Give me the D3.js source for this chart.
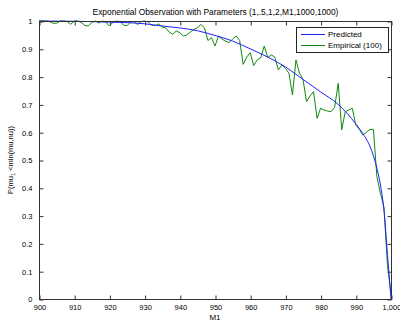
<!DOCTYPE html>
<html><head><meta charset="utf-8">
<script src="https://cdn.jsdelivr.net/npm/d3@7"></script>
<style>body{margin:0;background:#fff}svg{display:block}text{font-family:"Liberation Sans",Arial,sans-serif;fill:#000}</style>
</head><body><svg id="c" width="400" height="323"></svg>
<script>
const titleText = "Exponential Observation with Parameters (1,.5,1,2,M1,1000,1000)";
const xLabel = "M1";
const xTicks = [900,910,920,930,940,950,960,970,980,990,1000];
const yTicks = [0,0.1,0.2,0.3,0.4,0.5,0.6,0.7,0.8,0.9,1];
const seriesNames = ["Predicted","Empirical (100)"];
const predM = [900,910,920,930,935,940,945,950,955,960,965,970,975,980,985,990,992,994,995,996,997,998,999,1000];
const predV = [1.0,0.999,0.996,0.99,0.982,0.975,0.965,0.948,0.928,0.9,0.87,0.835,0.79,0.745,0.70,0.63,0.595,0.55,0.515,0.47,0.41,0.32,0.16,0.0];
const empM = d3.range(900,1001);
const empV = [1.0,1.0,1.0,0.998,0.992,0.992,1.0,1.0,0.998,0.988,
1.0,1.0,0.995,0.984,0.982,0.995,1.0,0.993,1.0,0.996,
0.982,0.995,1.0,0.998,0.985,0.983,0.996,0.998,0.987,0.998,
1.0,0.997,0.985,0.983,0.99,0.978,0.975,0.96,0.952,0.964,
0.958,0.946,0.95,0.96,0.97,0.975,0.988,0.975,0.93,0.94,
0.91,0.946,0.935,0.928,0.922,0.935,0.946,0.93,0.844,0.87,
0.886,0.84,0.86,0.868,0.91,0.868,0.878,0.87,0.824,0.842,
0.83,0.812,0.734,0.86,0.812,0.79,0.71,0.73,0.746,0.65,
0.686,0.68,0.676,0.674,0.69,0.776,0.608,0.674,0.68,0.686,
0.626,0.61,0.59,0.6,0.61,0.61,0.44,0.38,0.33,0.12,0.02];

const svg = d3.select("#c");
const L=39,R=391,T=21,B=299;
const x = d3.scaleLinear().domain([900,1000]).range([L,R]);
const y = d3.scaleLinear().domain([0,1]).range([B,T]);
const fs = 7.5;

svg.append("rect").attr("x",L+0.5).attr("y",T+0.5).attr("width",R-L).attr("height",B-T)
  .attr("fill","#fff").attr("stroke","#333").attr("stroke-width",1);

const gx = svg.append("g").attr("transform",`translate(0.5,${B+0.5})`)
  .call(d3.axisBottom(x).tickValues(xTicks).tickSizeInner(-4).tickSizeOuter(0).tickPadding(7));
const gxt = svg.append("g").attr("transform",`translate(0.5,${T+0.5})`)
  .call(d3.axisTop(x).tickValues(xTicks).tickSizeInner(-4).tickSizeOuter(0).tickFormat(""));
const gy = svg.append("g").attr("transform",`translate(${L+0.5},0.5)`)
  .call(d3.axisLeft(y).tickValues(yTicks).tickSizeInner(-4).tickSizeOuter(0).tickPadding(7).tickFormat(d=>d===0||d===1?String(d):d3.format(".1f")(d)));
const gyr = svg.append("g").attr("transform",`translate(${R+0.5},0.5)`)
  .call(d3.axisRight(y).tickValues(yTicks).tickSizeInner(-4).tickSizeOuter(0).tickFormat(""));
[gx,gxt,gy,gyr].forEach(g=>{g.select(".domain").remove();g.selectAll("line").attr("stroke","#333");
  g.selectAll("text").attr("font-size",fs).style("font-family","'Liberation Sans',Arial,sans-serif");});
gx.selectAll("text").attr("dy","0.5em");

const line = d3.line().x(d=>x(d[0])).y(d=>y(d[1]));
svg.append("path").datum(empM.map((m,i)=>[m,empV[i]])).attr("d",line)
  .attr("fill","none").attr("stroke","#118811").attr("stroke-width",1);
svg.append("path").datum(predM.map((m,i)=>[m,predV[i]])).attr("d",line.curve(d3.curveMonotoneX))
  .attr("fill","none").attr("stroke","#2020ff").attr("stroke-width",1);

svg.append("rect").attr("x",L+0.5).attr("y",T+0.5).attr("width",R-L).attr("height",B-T)
  .attr("fill","none").attr("stroke","#333").attr("stroke-width",1);

const lg = svg.append("g");
lg.append("rect").attr("x",296.5).attr("y",27.5).attr("width",92).attr("height",25)
  .attr("fill","#fff").attr("stroke","#222");
const lc = ["#2020ff","#118811"];
seriesNames.forEach((n,i)=>{
  const yy = 34.5 + i*11;
  lg.append("line").attr("x1",301).attr("x2",325).attr("y1",yy).attr("y2",yy).attr("stroke",lc[i]).attr("stroke-width",1);
  lg.append("text").attr("x",328).attr("y",yy).attr("dy","0.35em").attr("font-size",fs+0.5).text(n);
});

svg.append("text").attr("x",(L+R)/2+0.5).attr("y",15).attr("text-anchor","middle").attr("font-size",8.4).text(titleText);
svg.append("text").attr("x",(L+R)/2).attr("y",320).attr("text-anchor","middle").attr("font-size",8).text(xLabel);
const yl = svg.append("text").attr("transform",`translate(13,${(T+B)/2}) rotate(-90)`).attr("text-anchor","middle").attr("font-size",7.5);
yl.append("tspan").text("P(mu");
yl.append("tspan").attr("font-size",5.5).attr("dy",2).text("1");
yl.append("tspan").attr("dy",-2).text(" <min(mu,nu))");
</script></body></html>
